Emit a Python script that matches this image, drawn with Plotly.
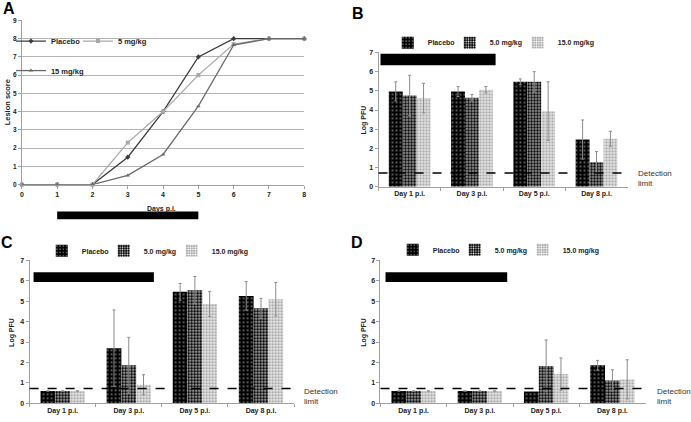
import plotly.graph_objects as go

W, H = 691, 422
def px(x):
    return x / W
def py(y):
    return 1 - y / H

FONT = "Liberation Sans, Arial, sans-serif"

# ---------------- Panel A data ----------------
days_a = [0, 1, 2, 3, 4, 5, 6, 7, 8]
placebo_a = [0, 0, 0, 1.5, 4.0, 7.0, 8.0, 8.0, 8.0]
mg5_a = [0, 0, 0, 2.3, 4.0, 6.0, 7.7, 8.0, 8.0]
mg15_a = [0, 0, 0, 0.5, 1.65, 4.3, 7.65, 8.0, 8.0]

# ---------------- Bar panels data ----------------
day_labels = ["Day 1 p.i.", "Day 3 p.i.", "Day 5 p.i.", "Day 8 p.i."]
series_names = ["Placebo", "5.0 mg/kg", "15.0 mg/kg"]

B_placebo = [4.97, 4.96, 5.47, 2.46]
B_placebo_err = [0.50, 0.26, 0.15, 1.02]
B_mg5 = [4.76, 4.64, 5.47, 1.27]
B_mg5_err = [1.05, 0.17, 0.53, 0.56]
B_mg15 = [4.62, 5.06, 3.94, 2.50]
B_mg15_err = [0.77, 0.17, 1.53, 0.39]

C_placebo = [0.6, 2.70, 5.46, 5.26]
C_placebo_err = [None, 1.87, 0.41, 0.70]
C_mg5 = [0.6, 1.86, 5.54, 4.65]
C_mg5_err = [None, 1.37, 0.67, 0.49]
C_mg15 = [0.6, 0.91, 4.86, 5.10]
C_mg15_err = [None, 0.49, 0.61, 0.82]

D_placebo = [0.6, 0.6, 0.58, 1.86]
D_placebo_err = [None, None, None, 0.24]
D_mg5 = [0.6, 0.6, 1.83, 1.12]
D_mg5_err = [None, None, 1.27, 0.52]
D_mg15 = [0.6, 0.6, 1.43, 1.17]
D_mg15_err = [None, None, 0.79, 0.96]

detection_limit = 0.72

fig = go.Figure()

# ---------------- Panel A traces ----------------
line_styles = [
    ("Placebo", placebo_a, "#3c3c3c", "diamond", 4, "legend", 22),
    ("5 mg/kg", mg5_a, "#a8a8a8", "square", 4, "legend", 60),
    ("15 mg/kg", mg15_a, "#6a6a6a", "triangle-up", 4, "legend2", 60),
]
for name, vals, col, sym, size, leg, lw in line_styles:
    fig.add_trace(go.Scatter(
        x=days_a, y=vals, name=name, mode="lines+markers",
        line=dict(color=col, width=1.3),
        marker=dict(color=col, symbol=sym, size=size),
        xaxis="x", yaxis="y", legend=leg, legendwidth=lw, cliponaxis=False,
    ))

# ---------------- Bar traces ----------------
patterns = [
    dict(shape=".", bgcolor="#000000", fgcolor="#ffffff", size=4, solidity=0.08, fillmode="replace"),
    dict(shape=".", bgcolor="#000000", fgcolor="#ffffff", size=3, solidity=0.3, fillmode="replace"),
    dict(shape=".", bgcolor="#909090", fgcolor="#ffffff", size=3, solidity=0.5, fillmode="replace"),
]
legend_widths = [17, 23, 60]
panels = [
    ("x2", "y2", "legend3", [(B_placebo, B_placebo_err), (B_mg5, B_mg5_err), (B_mg15, B_mg15_err)]),
    ("x3", "y3", "legend4", [(C_placebo, C_placebo_err), (C_mg5, C_mg5_err), (C_mg15, C_mg15_err)]),
    ("x4", "y4", "legend5", [(D_placebo, D_placebo_err), (D_mg5, D_mg5_err), (D_mg15, D_mg15_err)]),
]
for xa, ya, leg, data in panels:
    for i, (vals, errs) in enumerate(data):
        fig.add_trace(go.Bar(
            x=day_labels, y=vals, name=series_names[i],
            xaxis=xa, yaxis=ya, legend=leg, legendwidth=legend_widths[i],
            marker=dict(color=patterns[i]["bgcolor"], pattern=patterns[i], line=dict(width=0)),
            error_y=dict(type="data", array=errs, symmetric=True,
                         color="#8c8c8c", thickness=1, width=1.5),
        ))

axis_line = "#a0a0a0"
tickfont = dict(family=FONT, size=7, color="#222", weight="bold")

layout = dict(
    width=W, height=H,
    margin=dict(l=0, r=0, t=0, b=0),
    paper_bgcolor="white", plot_bgcolor="white",
    barmode="group", bargap=0.33, bargroupgap=0,
    font=dict(family=FONT, size=7, color="#222"),
    showlegend=True,
    # Panel A axes
    xaxis=dict(domain=[px(20), px(304)], range=[0, 8], anchor="y",
               tickmode="linear", tick0=0, dtick=1, ticks="outside", ticklen=3,
               tickcolor=axis_line, showline=True, linecolor=axis_line,
               showgrid=False, zeroline=False, tickfont=tickfont),
    yaxis=dict(domain=[py(183.6), py(16.7)], range=[0, 9], anchor="x",
               tickmode="linear", tick0=0, dtick=1, ticks="outside", ticklen=3,
               tickcolor=axis_line, showline=True, linecolor=axis_line,
               showgrid=True, gridcolor="#b4b4b4", gridwidth=1, zeroline=False,
               tickfont=dict(family=FONT, size=6.5, color="#222", weight="bold")),
)

bar_x = {"xaxis2": (378.7, 629.3, "y2"), "xaxis3": (27.75, 293.75, "y3"), "xaxis4": (380.7, 647.3, "y4")}
bar_y = {"yaxis2": (185.8, 49.3, "x2"), "yaxis3": (406.0, 260.7, "x3"), "yaxis4": (406.0, 260.7, "x4")}
for k, (a, b, anc) in bar_x.items():
    layout[k] = dict(domain=[px(a), px(b)], anchor=anc, type="category",
                     range=[-0.5, 3.5], ticks="outside", ticklen=3, tickson="boundaries",
                     tickcolor=axis_line, showline=True, linecolor=axis_line,
                     showgrid=False, zeroline=False, tickfont=tickfont)
for k, (a, b, anc) in bar_y.items():
    layout[k] = dict(domain=[py(a), py(b)], anchor=anc, range=[0, 7],
                     tickmode="linear", tick0=0, dtick=1, ticks="outside", ticklen=3,
                     tickcolor=axis_line, showline=True, linecolor=axis_line,
                     showgrid=False, zeroline=False, tickfont=tickfont)

legfont_a = dict(family=FONT, size=7.5, color="#222", weight="bold")
legfont_b = dict(family=FONT, size=7, color="#222", weight="bold")
layout["legend"] = dict(orientation="h", x=px(9), y=py(37.7), xanchor="left", yanchor="middle",
                        bgcolor="rgba(0,0,0,0)", font=legfont_a)
layout["legend2"] = dict(orientation="h", x=px(9), y=py(67.7), xanchor="left", yanchor="middle",
                         bgcolor="rgba(0,0,0,0)", font=legfont_a)
layout["legend3"] = dict(orientation="h", x=px(388), y=py(39.3), xanchor="left", yanchor="middle",
                         bgcolor="rgba(0,0,0,0)", font=legfont_b)
layout["legend4"] = dict(orientation="h", x=px(40), y=py(251), xanchor="left", yanchor="middle",
                         bgcolor="rgba(0,0,0,0)", font=legfont_b)
layout["legend5"] = dict(orientation="h", x=px(393), y=py(250), xanchor="left", yanchor="middle",
                         bgcolor="rgba(0,0,0,0)", font=legfont_b)

fig.update_layout(**layout)

# ---------------- Shapes ----------------
shapes = []
# white box hiding gridlines behind panel A legend
shapes.append(dict(type="rect", xref="paper", yref="paper", x0=px(21), x1=px(150),
                   y0=py(76), y1=py(28), fillcolor="white", line=dict(width=0), layer="between"))
# treatment bar under panel A (days 1-5)
shapes.append(dict(type="rect", xref="x", yref="paper", x0=1, x1=5, y0=py(219), y1=py(211),
                   fillcolor="black", line=dict(width=0)))
# treatment bars in bar panels
shapes.append(dict(type="rect", xref="x2 domain", yref="y2", x0=0.008, x1=0.47, y0=6.33, y1=6.93,
                   fillcolor="black", line=dict(width=0)))
shapes.append(dict(type="rect", xref="x3 domain", yref="y3", x0=0.015, x1=0.47, y0=5.94, y1=6.42,
                   fillcolor="black", line=dict(width=0)))
shapes.append(dict(type="rect", xref="x4 domain", yref="y4", x0=0.019, x1=0.478, y0=5.94, y1=6.42,
                   fillcolor="black", line=dict(width=0)))
# detection limit lines
for xr, yr in [("x2 domain", "y2"), ("x3 domain", "y3"), ("x4 domain", "y4")]:
    shapes.append(dict(type="line", xref=xr, yref=yr, x0=0, x1=1.005, y0=detection_limit, y1=detection_limit,
                       line=dict(color="black", width=1.5, dash="dash")))
fig.update_layout(shapes=shapes)

# ---------------- Annotations ----------------
ann = []
def text(x, y, s, size=7, bold=True, angle=0, xanchor="center", color="#222"):
    ann.append(dict(xref="paper", yref="paper", x=px(x), y=py(y), text=s, showarrow=False,
                    textangle=angle, xanchor=xanchor, yanchor="middle",
                    font=dict(family=FONT, size=size, color=color, weight="bold" if bold else "normal")))

text(7, 5, "A", size=16, color="black")
text(358, 10, "B", size=16, color="black")
text(5, 243, "C", size=16, color="black")
text(357, 243, "D", size=16, color="black")

text(5, 100, "Lesion score", size=7.5, angle=-90)
text(160, 208, "Days p.i.", size=7)
text(364.5, 118, "Log PFU", size=7, angle=-90)
text(10.5, 334, "Log PFU", size=7, angle=-90)
text(364.5, 334, "Log PFU", size=7, angle=-90)

for x, y in [(638, 177.5), (302, 399.5), (657, 399)]:
    ann.append(dict(xref="paper", yref="paper", x=px(x), y=py(y), text="Detection<br>limit",
                    showarrow=False, xanchor="left", yanchor="middle", align="left",
                    font=dict(family=FONT, size=8, color="#333")))
fig.update_layout(annotations=ann)

fig.write_html("out.html", config={"displayModeBar": False},
               post_script="document.body.style.margin='0';document.body.style.padding='0';")
